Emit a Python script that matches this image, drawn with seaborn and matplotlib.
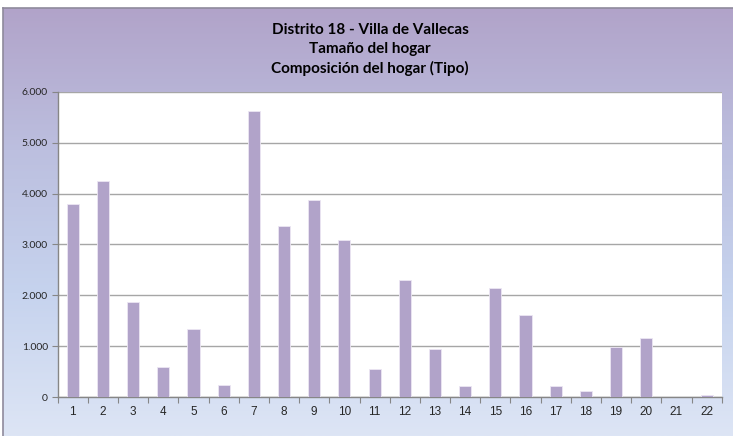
import numpy as np
import pandas as pd
import matplotlib
matplotlib.use("Agg")
import matplotlib.pyplot as plt
from matplotlib.colors import LinearSegmentedColormap
from matplotlib.ticker import FuncFormatter
import seaborn as sns

categories = [str(i) for i in range(1, 23)]
values = [3790, 4240, 1880, 600, 1350, 235, 5615, 3360, 3880, 3085, 560,
          2300, 955, 222, 2137, 1608, 222, 118, 980, 1157, 10, 45]
yticks = [0, 1000, 2000, 3000, 4000, 5000, 6000]
title_lines = ["Distrito 18 - Villa de Vallecas", "Tamaño del hogar",
               "Composición del hogar (Tipo)"]

df = pd.DataFrame({"cat": categories, "val": values})

sns.set_theme(style="white")
plt.rcParams['font.family'] = ['Lato', 'DejaVu Sans']

W, H = 733, 436
fig = plt.figure(figsize=(W / 100, H / 100), dpi=100)
fig.patch.set_facecolor("white")

# gradient background of chart area
bg = fig.add_axes([3 / W, 0, (W - 3) / W, (H - 8) / H], zorder=0)
cmap = LinearSegmentedColormap.from_list(
    "bg", ["#b1a3c9", "#bcbfdf", "#c6d3ee", "#dde5f5"])
grad = np.linspace(0, 1, 256).reshape(-1, 1)
bg.imshow(grad, aspect="auto", cmap=cmap, extent=[0, 1, 0, 1], origin="upper")
bg.set_xlim(0, 1)
bg.set_ylim(0, 1)
bg.set_xticks([])
bg.set_yticks([])
for s in ["left", "top"]:
    bg.spines[s].set_color("#8f8a9c")
    bg.spines[s].set_linewidth(1.2)
for s in ["right", "bottom"]:
    bg.spines[s].set_visible(False)

ax = fig.add_axes([57.7 / W, (H - 397.3) / H, (721.7 - 57.7) / W,
                   (397.3 - 91.7) / H], zorder=1)
ax.set_facecolor("white")
sns.barplot(data=df, x="cat", y="val", ax=ax, color="#b1a3c9", width=0.4,
            saturation=1, edgecolor="#ece6f3", linewidth=0.6, zorder=3)
ax.set_ylim(0, 6000)
ax.set_xlim(-0.5, len(categories) - 0.5)
ax.set_yticks(yticks)
ax.yaxis.set_major_formatter(FuncFormatter(lambda v, p: f"{int(v):,}".replace(",", ".")))
ax.grid(axis="y", color="#a6a6a6", linewidth=1.0, zorder=0)
ax.grid(axis="x", visible=False)
ax.set_axisbelow(True)
ax.set_xlabel("")
ax.set_ylabel("")

for s in ["top", "right"]:
    ax.spines[s].set_visible(False)
for s in ["left", "bottom"]:
    ax.spines[s].set_color("#868686")
    ax.spines[s].set_linewidth(1.0)

ax.tick_params(axis="y", which="major", direction="out", length=4, width=0.8,
               color="#868686", labelsize=7.5, pad=3, left=True)
for lbl in ax.get_yticklabels():
    lbl.set_family(["Lato", "DejaVu Sans"])
ax.tick_params(axis="x", which="major", length=0, labelsize=8.5, pad=6)
for lbl in ax.get_xticklabels():
    lbl.set_family(["Liberation Sans", "DejaVu Sans"])
# tick marks between categories
ax.set_xticks(np.arange(-0.5, len(categories), 1.0), minor=True)
ax.tick_params(axis="x", which="minor", direction="out", length=4, width=0.8,
               color="#868686", bottom=True)

ys = [30, 49, 68]
for t, y in zip(title_lines, ys):
    fig.text(370 / W, 1 - y / H, t, ha="center", va="center",
             fontsize=11, fontweight="bold", color="#000000",
             family=["Lato", "DejaVu Sans"])

fig.savefig("out.png", dpi=100)
